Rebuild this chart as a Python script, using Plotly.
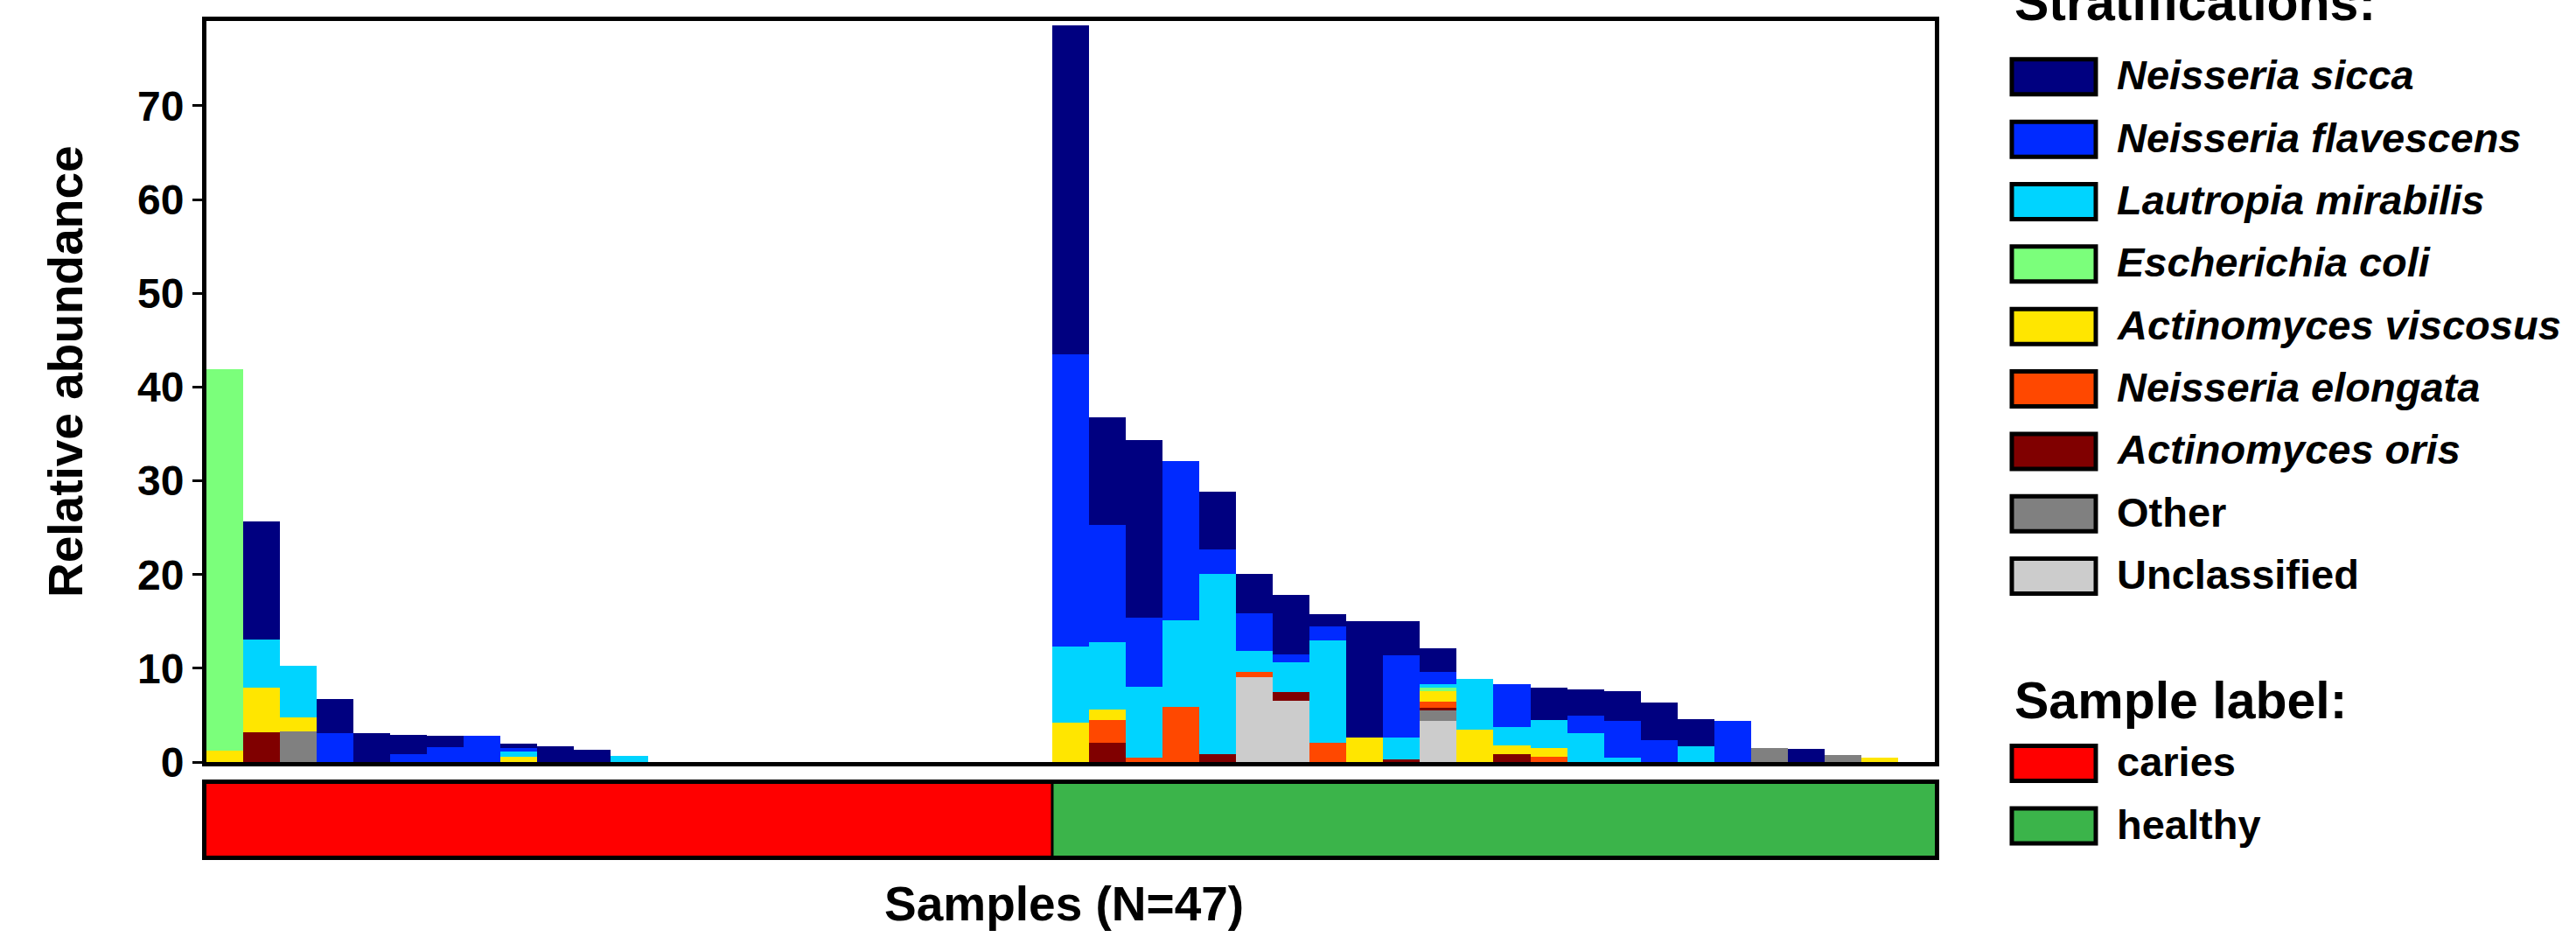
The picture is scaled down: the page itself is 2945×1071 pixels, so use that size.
import plotly.graph_objects as go

# ---------------- data ----------------
samples = ["S%02d" % (i + 1) for i in range(47)]
sample_label = ["caries"] * 23 + ["healthy"] * 24

species = ["Neisseria sicca", "Neisseria flavescens", "Lautropia mirabilis",
           "Escherichia coli", "Actinomyces viscosus", "Neisseria elongata",
           "Actinomyces oris", "Other", "Unclassified"]
italic = [True, True, True, True, True, True, True, False, False]
colors = ["#000080", "#002AFF", "#00D4FF", "#7BFF7B", "#FFE600",
          "#FF4800", "#800000", "#808080", "#CCCCCC"]

n_sicca = [0, 12.65, 0, 3.7, 3.05, 2.1, 1.2, 0, 0.55, 1.7, 1.33, 0,
           0, 0, 0, 0, 0, 0, 0, 0, 0, 0, 0,
           35.05, 11.5, 18.93, 0, 6.16, 4.19, 6.42, 1.3, 12.43, 3.64, 2.43, 0,
           0, 3.41, 2.8, 3.17, 3.95, 2.83, 0, 0, 1.37, 0, 0, 0]
n_flav = [0, 0, 0, 3.05, 0, 0.8, 1.6, 2.77, 0.3, 0, 0, 0,
          0, 0, 0, 0, 0, 0, 0, 0, 0, 0, 0,
          31.16, 12.5, 7.32, 17.0, 2.56, 4.07, 0.8, 1.56, 0, 8.7, 1.39, 0,
          4.57, 0, 1.92, 3.91, 2.36, 0, 4.35, 0, 0, 0, 0, 0]
l_mirab = [0, 5.15, 5.5, 0, 0, 0, 0, 0, 0.55, 0, 0, 0.65,
           0, 0, 0, 0, 0, 0, 0, 0, 0, 0, 0,
           8.16, 7.17, 7.6, 9.25, 19.25, 2.2, 3.13, 10.9, 0, 2.34, 0.38, 5.43,
           1.96, 3.05, 3.05, 0.5, 0, 1.71, 0, 0, 0, 0, 0, 0]
e_coli = [40.7, 0, 0, 0, 0, 0, 0, 0, 0, 0, 0, 0,
          0, 0, 0, 0, 0, 0, 0, 0, 0, 0, 0,
          0, 0, 0, 0, 0, 0, 0, 0, 0, 0, 0.31, 0,
          0, 0, 0, 0, 0, 0, 0, 0, 0, 0, 0, 0]
a_visc = [1.2, 4.7, 1.45, 0, 0, 0, 0, 0, 0.6, 0, 0, 0,
          0, 0, 0, 0, 0, 0, 0, 0, 0, 0, 0,
          4.18, 1.15, 0, 0, 0, 0, 0, 0, 2.64, 0, 1.18, 3.45,
          0.93, 0.87, 0, 0, 0, 0, 0, 0, 0, 0, 0.45, 0]
n_elong = [0, 0, 0, 0, 0, 0, 0, 0, 0, 0, 0, 0,
           0, 0, 0, 0, 0, 0, 0, 0, 0, 0, 0,
           0, 2.41, 0.45, 5.85, 0, 0.52, 0, 2.05, 0, 0, 0.62, 0,
           0, 0.6, 0, 0, 0, 0, 0, 0, 0, 0, 0, 0]
a_oris = [0, 3.2, 0, 0, 0, 0, 0, 0, 0, 0, 0, 0,
          0, 0, 0, 0, 0, 0, 0, 0, 0, 0, 0,
          0, 2.03, 0, 0, 0.83, 0, 0.94, 0, 0, 0.3, 0.31, 0,
          0.81, 0, 0, 0, 0, 0, 0, 0, 0, 0, 0, 0]
other = [0, 0, 3.3, 0, 0, 0, 0, 0, 0, 0, 0, 0,
         0, 0, 0, 0, 0, 0, 0, 0, 0, 0, 0,
         0, 0, 0, 0, 0, 0, 0, 0, 0, 0, 1.09, 0,
         0, 0, 0, 0, 0, 0, 0, 1.52, 0, 0.77, 0, 0]
unclassified = [0, 0, 0, 0, 0, 0, 0, 0, 0, 0, 0, 0,
                0, 0, 0, 0, 0, 0, 0, 0, 0, 0, 0,
                0, 0, 0, 0, 0, 9.1, 6.57, 0, 0, 0, 4.38, 0,
                0, 0, 0, 0, 0, 0, 0, 0, 0, 0, 0, 0]

series = [n_sicca, n_flav, l_mirab, e_coli, a_visc, n_elong, a_oris, other, unclassified]

group_names = ["caries", "healthy"]
group_colors = {"caries": "#FF0000", "healthy": "#3BB44A"}

# ---------------- layout geometry (pixels) ----------------
W, H = 2945, 1071
ML, MR, MT, MB = 236, 733, 24, 93
PW, PH = W - ML - MR, H - MT - MB


def px(x):
    return (x - ML) / PW


def py(y):
    return (H - MB - y) / PH


FONT = "Liberation Sans, Arial, sans-serif"

fig = go.Figure()

# stacked bars, bottom first
for name, vals, col in reversed(list(zip(species, series, colors))):
    fig.add_trace(go.Bar(x=samples, y=vals, name=name, marker_color=col,
                         marker_line_width=0, showlegend=False,
                         xaxis="x", yaxis="y"))

# sample label strip
fig.add_trace(go.Bar(x=samples, y=[1] * len(samples),
                     marker_color=[group_colors[g] for g in sample_label],
                     marker_line_width=0, showlegend=False,
                     xaxis="x2", yaxis="y2"))

n_caries = sample_label.count("caries")

fig.update_layout(
    width=W, height=H,
    margin=dict(l=ML, r=MR, t=MT, b=MB, autoexpand=False),
    paper_bgcolor="white", plot_bgcolor="white",
    barmode="stack", bargap=0,
    font=dict(family=FONT, color="black"),
    xaxis=dict(domain=[0, 1], anchor="y", range=[-0.5, len(samples) - 0.5],
               showticklabels=False, ticks="", showgrid=False, zeroline=False,
               showline=True, linecolor="black", linewidth=5, mirror=True),
    yaxis=dict(domain=[py(871), 1], anchor="x", range=[0, 79.05],
               tickvals=[0, 10, 20, 30, 40, 50, 60, 70],
               ticks="outside", ticklen=11, tickwidth=3, tickcolor="black",
               tickfont=dict(size=48, family=FONT, color="black", weight="bold"),
               showgrid=False, zeroline=False,
               showline=True, linecolor="black", linewidth=5, mirror=True),
    xaxis2=dict(domain=[0, 1], anchor="y2", range=[-0.5, len(samples) - 0.5],
                showticklabels=False, ticks="", showgrid=False, zeroline=False,
                showline=True, linecolor="black", linewidth=5, mirror=True),
    yaxis2=dict(domain=[0, py(896)], anchor="x2", range=[0, 1],
                showticklabels=False, ticks="", showgrid=False, zeroline=False,
                showline=True, linecolor="black", linewidth=5, mirror=True),
)

shapes = [dict(type="line", xref="x2", yref="y2 domain",
               x0=n_caries - 0.5, x1=n_caries - 0.5, y0=0, y1=1,
               line=dict(color="black", width=3))]
annotations = []

# axis titles
annotations.append(dict(text="<b>Relative abundance</b>", xref="paper", yref="paper",
                        x=px(75), y=py(425), textangle=-90, showarrow=False,
                        xanchor="center", yanchor="middle",
                        font=dict(size=55, family=FONT, color="black")))
annotations.append(dict(text="<b>Samples (N=47)</b>", xref="paper", yref="paper",
                        x=px(1216), y=py(1033), showarrow=False,
                        xanchor="center", yanchor="middle",
                        font=dict(size=55, family=FONT, color="black")))

# custom legend
SW_X0, SW_X1 = 2300, 2396
TXT_X = 2418
annotations.append(dict(text="<b>Stratifications:</b>", xref="paper", yref="paper",
                        x=px(2301), y=py(3), showarrow=False,
                        xanchor="left", yanchor="middle",
                        font=dict(size=59, family=FONT, color="black")))
for i, (name, col, it) in enumerate(zip(species, colors, italic)):
    cy = 87.8 + i * 71.35
    shapes.append(dict(type="rect", xref="paper", yref="paper",
                       x0=px(SW_X0), x1=px(SW_X1), y0=py(cy + 20), y1=py(cy - 20),
                       fillcolor=col, line=dict(color="black", width=5)))
    label = "<b><i>%s</i></b>" % name if it else "<b>%s</b>" % name
    annotations.append(dict(text=label, xref="paper", yref="paper",
                            x=px(TXT_X), y=py(cy - 2), showarrow=False,
                            xanchor="left", yanchor="middle",
                            font=dict(size=47, family=FONT, color="black")))

annotations.append(dict(text="<b>Sample label:</b>", xref="paper", yref="paper",
                        x=px(2301), y=py(801), showarrow=False,
                        xanchor="left", yanchor="middle",
                        font=dict(size=59, family=FONT, color="black")))
for i, g in enumerate(group_names):
    cy = 872.5 + i * 71.5
    shapes.append(dict(type="rect", xref="paper", yref="paper",
                       x0=px(SW_X0), x1=px(SW_X1), y0=py(cy + 20), y1=py(cy - 20),
                       fillcolor=group_colors[g], line=dict(color="black", width=5)))
    annotations.append(dict(text="<b>%s</b>" % g, xref="paper", yref="paper",
                            x=px(TXT_X), y=py(cy - 2), showarrow=False,
                            xanchor="left", yanchor="middle",
                            font=dict(size=47, family=FONT, color="black")))

fig.update_layout(shapes=shapes, annotations=annotations)

# remove the default 8px page margin so figure pixels map 1:1 to the window
fig.write_html("out.html",
               config={"displayModeBar": False},
               post_script="document.body.style.margin='0px';"
                           "document.body.style.overflow='hidden';")
